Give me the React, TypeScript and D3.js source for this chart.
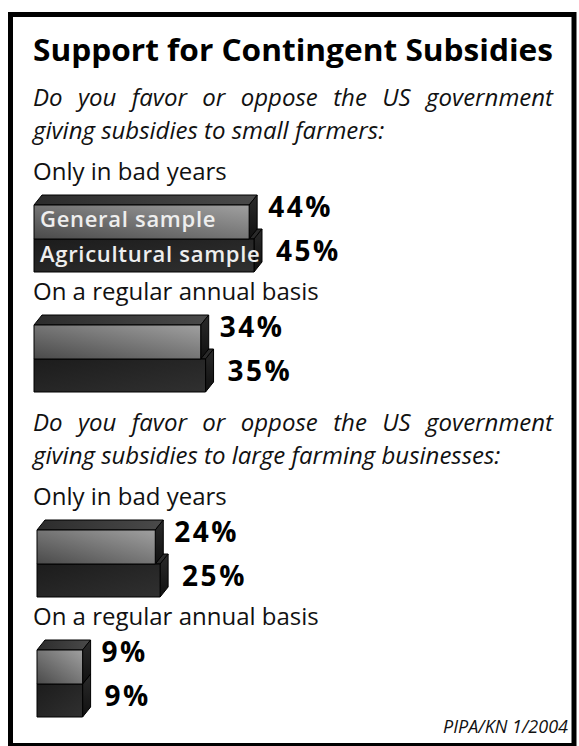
import React, { useLayoutEffect, useRef } from 'react';
import * as d3 from 'd3';

const title = 'Support for Contingent Subsidies';
const questions = [
  ['Do you favor or oppose the US government', 'giving subsidies to small farmers:'],
  ['Do you favor or oppose the US government', 'giving subsidies to large farming businesses:'],
];
const categories = ['Only in bad years', 'On a regular annual basis'];
const seriesNames = ['General sample', 'Agricultural sample'];
const generalSmallFarmers = [44, 34];
const agriculturalSmallFarmers = [45, 35];
const generalLargeBusinesses = [24, 9];
const agriculturalLargeBusinesses = [25, 9];
const source = 'PIPA/KN 1/2004';

const W = 579;
const H = 746;
const FONT = "'Open Sans', 'Noto Sans', sans-serif";
const DX = 8;
const DY = 10;
const BAR_H_GEN = 34;
const BAR_H_AGR = 33;
const TEXT_LEFT = 33;
const TEXT_RIGHT = 553;

const generalBySection = [generalSmallFarmers, generalLargeBusinesses];
const agriBySection = [agriculturalSmallFarmers, agriculturalLargeBusinesses];

const xw = d3.scaleLinear().domain([0, 45]).range([2, 220]);

type Item = { qi: number; ci: number; cat: string; labelY: number; top: number; g: number; a: number; x0: number };

function layout() {
  const qLines: { text: string; y: number; justify: boolean }[] = [];
  const items: Item[] = [];
  let cursor = 106;
  questions.forEach((q, qi) => {
    q.forEach((line, li) => qLines.push({ text: line, y: cursor + li * 33, justify: li < q.length - 1 }));
    let labelY = cursor + 33 * (q.length - 1) + 41;
    let bottom = 0;
    categories.forEach((cat, ci) => {
      const top = labelY + 25;
      items.push({ qi, ci, cat, labelY, top, g: generalBySection[qi][ci], a: agriBySection[qi][ci], x0: qi === 0 ? 34 : 37 });
      bottom = top + BAR_H_GEN + BAR_H_AGR;
      labelY = bottom + 28;
    });
    cursor = bottom + 39;
  });
  return { qLines, items };
}

function JustifiedText({ x, y, width, justify, children, ...rest }: any) {
  const ref = useRef<SVGTextElement>(null);
  useLayoutEffect(() => {
    const el = ref.current;
    if (!el || !justify) return;
    el.setAttribute('word-spacing', '0');
    const natural = el.getComputedTextLength();
    const spaces = String(children).split(' ').length - 1;
    if (spaces > 0 && natural < width) {
      el.setAttribute('word-spacing', String((width - natural) / spaces));
    }
  }, [children, width, justify]);
  return (
    <text ref={ref} x={x} y={y} {...rest}>
      {children}
    </text>
  );
}

function Bar3D({ x0, w, y, h, front, topFill, side }: { x0: number; w: number; y: number; h: number; front: string; topFill: string; side: string }) {
  const x1 = x0 + w;
  const topPts = [[x0, y], [x0 + DX, y - DY], [x1 + DX, y - DY], [x1, y]];
  const sidePts = [[x1, y], [x1 + DX, y - DY], [x1 + DX, y + h - DY], [x1, y + h]];
  const line = d3.line();
  return (
    <g stroke="#000" strokeWidth={1} strokeLinejoin="round">
      <path d={line(topPts as [number, number][]) + 'Z'} fill={topFill} />
      <path d={line(sidePts as [number, number][]) + 'Z'} fill={side} />
      <rect x={x0} y={y} width={w} height={h} fill={front} />
    </g>
  );
}

export default function App() {
  const { qLines, items } = layout();
  return (
    <svg width={W} height={H} style={{ position: 'absolute', left: 0, top: 0, background: '#fff' }} fontFamily={FONT}>
      <defs>
        <linearGradient id="genFront" x1="0" y1="1" x2="1" y2="0">
          <stop offset="0" stopColor="#4a4a4a" />
          <stop offset="1" stopColor="#a0a0a0" />
        </linearGradient>
        <linearGradient id="genTop" x1="0" y1="0" x2="1" y2="0">
          <stop offset="0" stopColor="#2c2c2c" />
          <stop offset="1" stopColor="#4a4a4a" />
        </linearGradient>
        <linearGradient id="agrFront" x1="0" y1="0" x2="1" y2="1">
          <stop offset="0" stopColor="#1c1c1c" />
          <stop offset="1" stopColor="#303030" />
        </linearGradient>
        <linearGradient id="side" x1="0" y1="0" x2="0" y2="1">
          <stop offset="0" stopColor="#2a2a2a" />
          <stop offset="1" stopColor="#111" />
        </linearGradient>
      </defs>
      <rect x={10.5} y={14.5} width={563.5} height={731} fill="#fff" stroke="#000" strokeWidth={5} />
      <text x={TEXT_LEFT} y={61} fontSize={30} fontWeight="bold" textLength={520} lengthAdjust="spacingAndGlyphs">{title}</text>
      {qLines.map((l, i) => (
        <JustifiedText key={'q' + i} x={TEXT_LEFT} y={l.y} width={TEXT_RIGHT - TEXT_LEFT} justify={l.justify} fontSize={24} fontStyle="italic" fill="#111">
          {l.text}
        </JustifiedText>
      ))}
      {items.map((it, i) => {
        const wg = xw(it.g);
        const wa = xw(it.a);
        const genTop = it.top;
        const agrTop = it.top + BAR_H_GEN;
        return (
          <g key={'it' + i}>
            <text x={TEXT_LEFT} y={it.labelY} fontSize={24} fill="#111">{it.cat}</text>
            <Bar3D x0={it.x0} w={wa} y={agrTop} h={BAR_H_AGR} front="url(#agrFront)" topFill="#2a2a2a" side="url(#side)" />
            <Bar3D x0={it.x0} w={wg} y={genTop} h={BAR_H_GEN} front="url(#genFront)" topFill="url(#genTop)" side="url(#side)" />
            {it.qi === 0 && it.ci === 0 && (
              <g fill="#eee" fontSize={22} fontWeight={600} letterSpacing={0.7}>
                <text x={it.x0 + 6} y={genTop + 22}>{seriesNames[0]}</text>
                <text x={it.x0 + 6} y={agrTop + 23}>{seriesNames[1]}</text>
              </g>
            )}
            <text x={it.x0 + wg + 19} y={genTop + 12} fontSize={28} fontWeight="bold" letterSpacing={2.5}>{it.g}%</text>
            <text x={it.x0 + wa + 22} y={agrTop + 22} fontSize={28} fontWeight="bold" letterSpacing={2.5}>{it.a}%</text>
          </g>
        );
      })}
      <text x={568} y={733} fontSize={18} fontStyle="italic" textAnchor="end" fill="#111">{source}</text>
    </svg>
  );
}
